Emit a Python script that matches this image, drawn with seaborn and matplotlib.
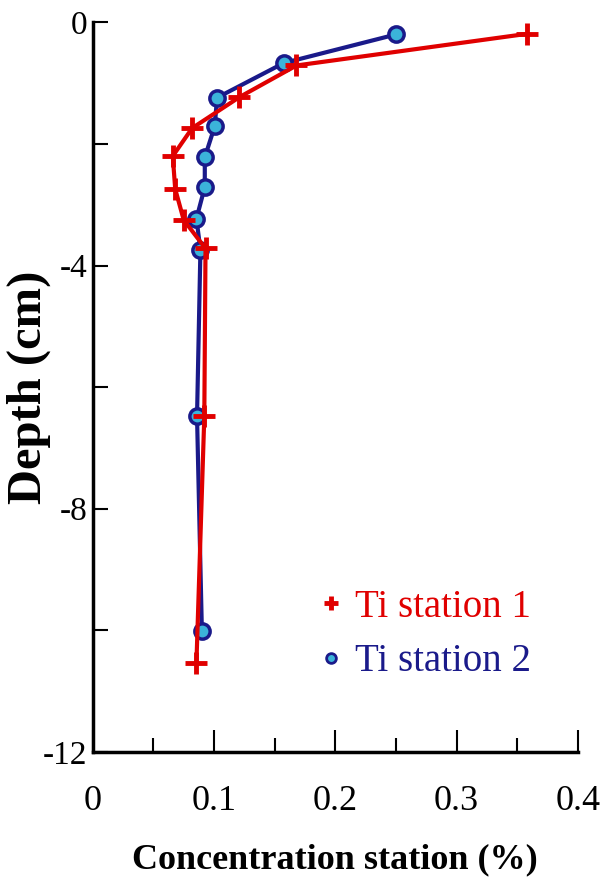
import matplotlib
matplotlib.use("Agg")
import matplotlib.pyplot as plt
from matplotlib.lines import Line2D
from matplotlib.ticker import MultipleLocator
import seaborn as sns
import pandas as pd

# Data
conc_st1 = [0.358, 0.168, 0.121, 0.082, 0.066, 0.068, 0.075, 0.093, 0.092, 0.0855]
depth_st1 = [-0.19, -0.71, -1.23, -1.74, -2.20, -2.74, -3.25, -3.72, -6.48, -10.54]
conc_st2 = [0.250, 0.1575, 0.1025, 0.1006, 0.0924, 0.0924, 0.0855, 0.0888, 0.086, 0.090]
depth_st2 = [-0.20, -0.67, -1.24, -1.71, -2.22, -2.71, -3.23, -3.74, -6.48, -10.01]
labels = ["Ti station 1", "Ti station 2"]
x_ticks = [0, 0.1, 0.2, 0.3, 0.4]
y_ticks = [0, -4, -8, -12]

red = "#e00000"
navy = "#1a1a8a"
cyan = "#3bb3d9"

sns.set_style("white")
plt.rcParams["font.family"] = ["Liberation Serif", "DejaVu Serif"]
plt.rcParams["text.color"] = "black"
plt.rcParams["axes.labelcolor"] = "black"

fig = plt.figure(figsize=(6.02, 8.92), dpi=100)
ax = fig.add_axes([0.154, 0.157, 0.806, 0.818])

df1 = pd.DataFrame({"c": conc_st1, "d": depth_st1})
df2 = pd.DataFrame({"c": conc_st2, "d": depth_st2})

sns.lineplot(data=df2, x="c", y="d", sort=False, estimator=None, ax=ax,
             color=navy, lw=3, marker="o", ms=11, mfc=cyan, mec=navy, mew=2.5, zorder=2)
sns.lineplot(data=df1, x="c", y="d", sort=False, estimator=None, ax=ax,
             color=red, lw=3, marker="+", ms=16, mec=red, mew=3.5, zorder=3)

ax.set_xlim(0, 0.4)
ax.set_ylim(-12, 0)
ax.set_xticks(x_ticks)
ax.set_xticklabels([f"{v:g}" for v in x_ticks])
ax.set_yticks(y_ticks)
ax.set_yticklabels([f"{v:g}" for v in y_ticks])
ax.xaxis.set_minor_locator(MultipleLocator(0.05))
ax.yaxis.set_minor_locator(MultipleLocator(2))
ax.tick_params(which="both", bottom=True, left=True, direction="in",
               width=1.5, color="black", labelcolor="black")
ax.tick_params(axis="x", which="major", length=16, labelsize=26, pad=24)
ax.tick_params(axis="x", which="minor", length=10)
ax.tick_params(axis="y", which="both", length=11)
ax.tick_params(axis="y", which="major", labelsize=24, pad=4)
for s in ["top", "right"]:
    ax.spines[s].set_visible(False)
for s in ["left", "bottom"]:
    ax.spines[s].set_linewidth(2.5)
    ax.spines[s].set_color("black")

ax.set_xlabel("Concentration station (%)", fontsize=26, fontweight="bold", labelpad=18)
ax.set_ylabel("Depth (cm)", fontsize=35, fontweight="bold")
ax.yaxis.set_label_coords(-0.085, 0.5)

handles = [
    Line2D([], [], ls="none", marker="+", ms=10, mew=3.5, color=red),
    Line2D([], [], ls="none", marker="o", ms=7, mfc=cyan, mec=navy, mew=2),
]
leg = ax.legend(handles, labels, loc="upper left", bbox_to_anchor=(0.436, 0.245),
                frameon=False, fontsize=28, handlelength=0.6, handletextpad=0.3,
                labelspacing=0.45, borderaxespad=0)
for t, c in zip(leg.get_texts(), [red, navy]):
    t.set_color(c)

fig.savefig("out.png", dpi=100)
